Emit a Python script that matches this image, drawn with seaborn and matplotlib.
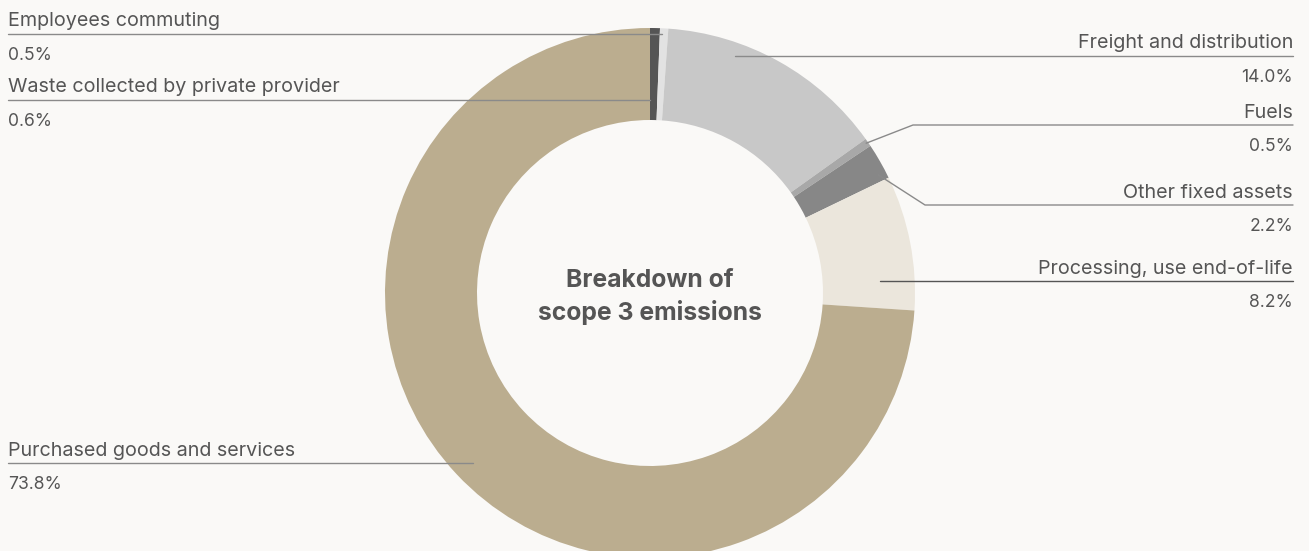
import numpy as np
import matplotlib
matplotlib.use("Agg")
import matplotlib.pyplot as plt
import seaborn as sns

# ---- data ----
categories = ["Waste collected by private provider", "Employees commuting",
              "Freight and distribution", "Fuels", "Other fixed assets",
              "Processing, use end-of-life", "Purchased goods and services"]
values = [0.6, 0.5, 14.0, 0.5, 2.2, 8.2, 73.8]
pct_labels = ["0.6%", "0.5%", "14.0%", "0.5%", "2.2%", "8.2%", "73.8%"]
colors = ["#555555", "#e2e2e2", "#c8c8c8", "#a8a8a8", "#878787", "#ebe6dc", "#bbad8f"]
center_title = "Breakdown of\nscope 3 emissions"

sns.set_theme(style="white")
plt.rcParams['font.family'] = ['Inter', 'DejaVu Sans']

W, H = 1309, 551
BG = "#faf9f7"
TXT = "#555555"
fig = plt.figure(figsize=(W / 100, H / 100), dpi=100, facecolor=BG)
ax = fig.add_axes([0, 0, 1, 1])
ax.set_facecolor(BG)

cx, cy = 650, H - 293
R, RIN = 265, 173
wedges, _ = ax.pie(values, colors=colors, startangle=90, counterclock=False,
                   radius=R, center=(cx, cy),
                   wedgeprops=dict(width=R - RIN, linewidth=0), frame=True)
ax.set_xlim(0, W)
ax.set_ylim(0, H)
ax.set_aspect('equal')
ax.axis('off')

# layout: (side, label y px, anchor fraction in wedge, anchor radius, elbow x or None)
layout = {
    "Waste collected by private provider": ("L", 100, 0.05, 193, None),
    "Employees commuting": ("L", 34, 0.3, 259, None),
    "Freight and distribution": ("R", 56, 0.31, 252, None),
    "Fuels": ("R", 125, 0.45, 263, 913),
    "Other fixed assets": ("R", 205, 0.8, 257, 925),
    "Processing, use end-of-life": ("R", 281, 0.78, 230, None),
    "Purchased goods and services": ("L", 463, 0.5, 242, None),
}

total = sum(values)
cum = 0.0
LX, RX = 8, 1293
for cat, v, pl in zip(categories, values, pct_labels):
    side, ly, frac, ra, elbow = layout[cat]
    ang = np.deg2rad(90 - 360 * (cum + frac * v) / total)
    cum += v
    axp = cx + ra * np.cos(ang)
    ayp = cy + ra * np.sin(ang)
    yline = H - ly
    lc = "#555555" if cat.startswith("Processing") else "#8a8a8a"
    if elbow is None:
        ax.plot([LX if side == "L" else RX, axp], [yline, yline], color=lc, lw=1)
    else:
        ax.plot([RX, elbow, axp], [yline, yline, ayp], color=lc, lw=1)
    ha = "left" if side == "L" else "right"
    xx = LX if side == "L" else RX
    ax.text(xx, yline + 3.5, cat, ha=ha, va="bottom", fontsize=14.2, color=TXT)
    ax.text(xx, yline - 13, pl, ha=ha, va="top", fontsize=12.6, color=TXT)

ax.text(cx, H - 297, center_title, ha="center", va="center", fontsize=17.8,
        fontweight="bold", color=TXT, linespacing=1.4)

fig.savefig("out.png", dpi=100, facecolor=BG)
